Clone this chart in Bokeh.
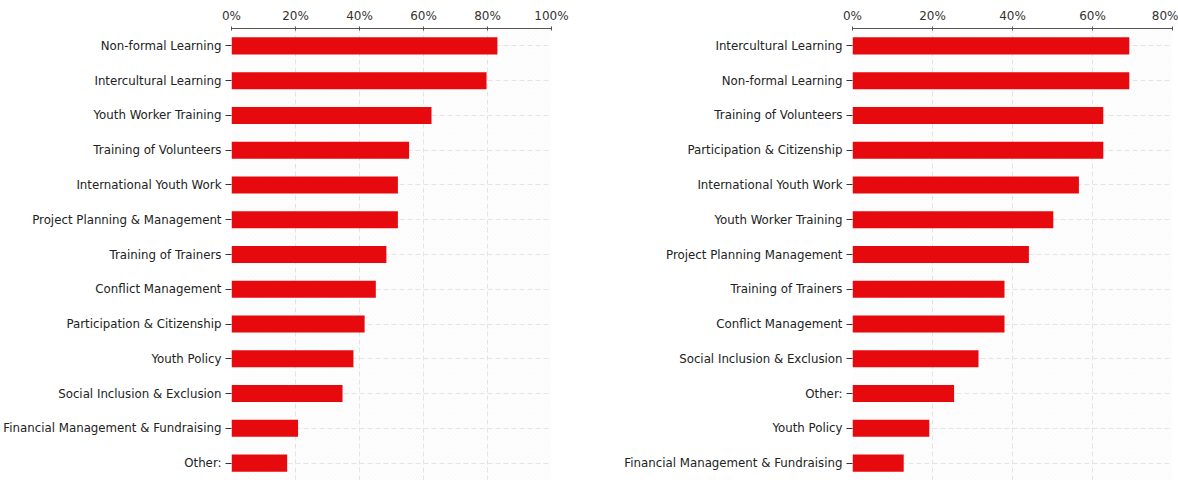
from bokeh.plotting import figure
from bokeh.layouts import row
from bokeh.models import FixedTicker, PrintfTickFormatter, BoxAnnotation, ColumnDataSource
from bokeh.embed import file_html
from bokeh.resources import INLINE

# ---- data (percent of respondents) ----
left_topics = [
    "Non-formal Learning",
    "Intercultural Learning",
    "Youth Worker Training",
    "Training of Volunteers",
    "International Youth Work",
    "Project Planning & Management",
    "Training of Trainers",
    "Conflict Management",
    "Participation & Citizenship",
    "Youth Policy",
    "Social Inclusion & Exclusion",
    "Financial Management & Fundraising",
    "Other:",
]
left_values = [83.1, 79.7, 62.5, 55.5, 52.0, 52.0, 48.4, 45.1, 41.6, 38.1, 34.7, 20.8, 17.4]

right_topics = [
    "Intercultural Learning",
    "Non-formal Learning",
    "Training of Volunteers",
    "Participation & Citizenship",
    "International Youth Work",
    "Youth Worker Training",
    "Project Planning Management",
    "Training of Trainers",
    "Conflict Management",
    "Social Inclusion & Exclusion",
    "Other:",
    "Youth Policy",
    "Financial Management & Fundraising",
]
right_values = [69.2, 69.2, 62.7, 62.7, 56.6, 50.2, 44.1, 38.0, 38.0, 31.5, 25.4, 19.2, 12.8]

left_ticks = [0, 20, 40, 60, 80, 100]
right_ticks = [0, 20, 40, 60, 80]

FONT = "DejaVu Sans"
BAR = "#e60a0f"


def make(topics, values, xmax, ticks, width, bl, br, bt):
    src = ColumnDataSource(dict(topic=topics, value=values))
    p = figure(
        y_range=list(reversed(topics)), x_range=(0, xmax),
        width=width, height=480, x_axis_location="above",
        output_backend="svg", toolbar_location=None,
        min_border_left=bl, min_border_right=br,
        min_border_top=bt, min_border_bottom=0,
    )
    p.add_layout(BoxAnnotation(fill_alpha=0, line_alpha=0, hatch_pattern="/",
                               hatch_color="#eeeeee", hatch_alpha=0.4,
                               hatch_scale=5, hatch_weight=1, level="underlay"))
    p.hbar(y="topic", left=0, right="value", height=0.49, source=src,
           fill_color=BAR, line_color=None)

    p.outline_line_color = None
    p.background_fill_color = "white"

    xa = p.xaxis[0]
    xa.ticker = FixedTicker(ticks=ticks)
    xa.formatter = PrintfTickFormatter(format="%d%%")
    xa.minor_tick_line_color = None
    xa.axis_line_color = "#555555"
    xa.major_tick_line_color = "#555555"
    xa.major_tick_out = 2
    xa.major_tick_in = 2
    xa.major_label_standoff = 4
    xa.major_label_text_font = FONT
    xa.major_label_text_font_size = "12px"
    xa.major_label_text_color = "#333333"

    ya = p.yaxis[0]
    ya.axis_line_color = None
    ya.major_tick_line_color = "#333333"
    ya.major_tick_out = 6
    ya.major_tick_in = 0
    ya.major_label_standoff = 4
    ya.major_label_text_font = FONT
    ya.major_label_text_font_size = "11.8px"
    ya.major_label_text_color = "#222222"

    p.xgrid.ticker = FixedTicker(ticks=ticks)
    p.xgrid.grid_line_color = "#e2e2e2"
    p.xgrid.grid_line_dash = "5 3"
    p.ygrid.grid_line_color = "#e2e2e2"
    p.ygrid.grid_line_dash = "5 3"
    return p


p1 = make(left_topics, left_values, 100, left_ticks, 580, 231, 29, 25)
p2 = make(right_topics, right_values, 80, right_ticks, 598, 272, 6, 28)

layout = row(p1, p2)
open("out.html", "w").write(file_html(layout, INLINE))
